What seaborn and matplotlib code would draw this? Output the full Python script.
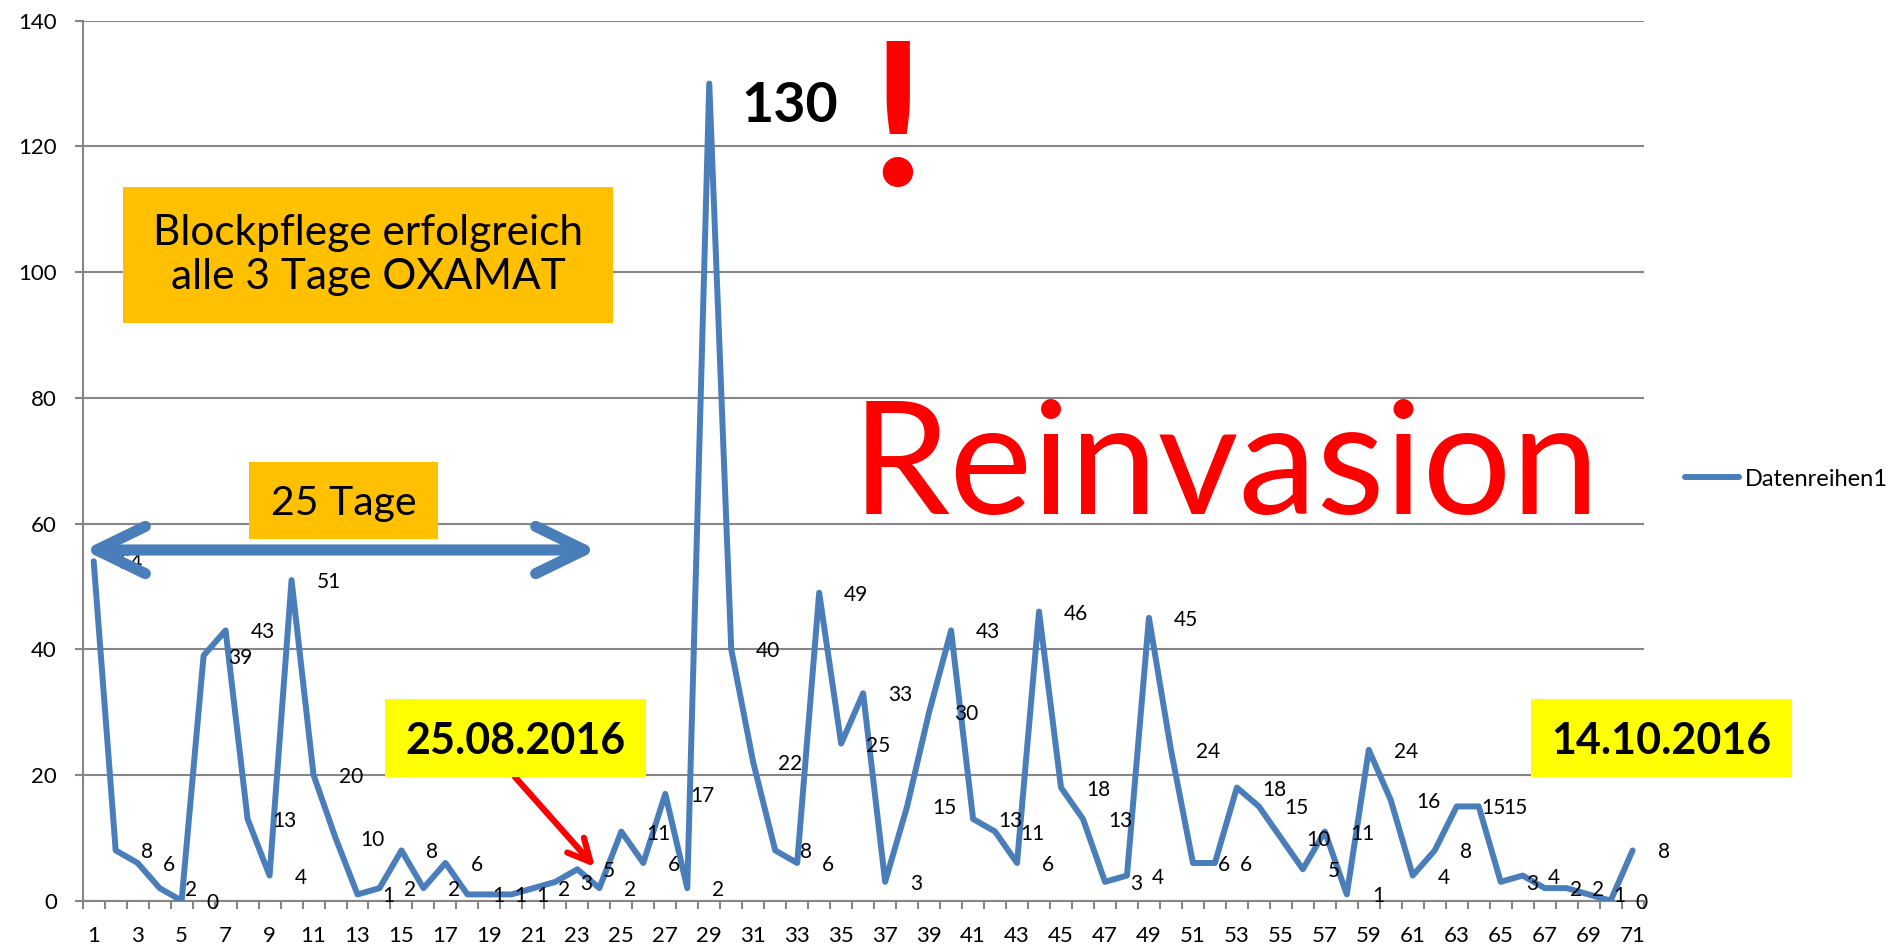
import matplotlib
matplotlib.use("Agg")
import matplotlib.pyplot as plt
from matplotlib.patches import Rectangle
import pandas as pd
import seaborn as sns

# Daten: Milbenfall pro Tag
tage = list(range(1, 72))
milben = [54, 8, 6, 2, 0, 39, 43, 13, 4, 51,
          20, 10, 1, 2, 8, 2, 6, 1, 1, 1,
          2, 3, 5, 2, 11, 6, 17, 2, 130, 40,
          22, 8, 6, 49, 25, 33, 3, 15, 30, 43,
          13, 11, 6, 46, 18, 13, 3, 4, 45, 24,
          6, 6, 18, 15, 10, 5, 11, 1, 24, 16,
          4, 8, 15, 15, 3, 4, 2, 2, 1, 0, 8]
y_ticks = [0, 20, 40, 60, 80, 100, 120, 140]
x_beschriftet = tage[::2]
serie = "Datenreihen1"

W, H = 1897, 948
BLAU = "#4A7EBB"
GRAU = "#868686"
ROT = "#FF0000"


def fig_xy(x, y):
    # Pixel der Vorlage -> Figure-Koordinaten
    return x / W, 1 - y / H


def kasten(x0, y0, x1, y1, farbe):
    fig.add_artist(Rectangle(fig_xy(x0, y1), (x1 - x0) / W, (y1 - y0) / H,
                             transform=fig.transFigure, facecolor=farbe,
                             edgecolor="none", zorder=2))


sns.set_style("white")
plt.rcParams["font.family"] = ["Lato", "DejaVu Sans"]
plt.rcParams["text.color"] = "black"
plt.rcParams["xtick.labelcolor"] = "black"
plt.rcParams["ytick.labelcolor"] = "black"

df = pd.DataFrame({"Tag": tage, "Anzahl": milben})

fig = plt.figure(figsize=(W / 100, H / 100), dpi=100)
ax = fig.add_axes([82.7 / W, 1 - 900.7 / H, (1643.6 - 82.7) / W, (900.7 - 20.7) / H])

sns.lineplot(data=df, x="Tag", y="Anzahl", ax=ax, color=BLAU, lw=4.3,
             label=serie, zorder=3)

ax.set_xlim(0.5, len(tage) + 0.5)
ax.set_ylim(y_ticks[0], y_ticks[-1])
ax.set_yticks(y_ticks)
ax.set_xticks(x_beschriftet)
ax.set_xticklabels([str(t) for t in x_beschriftet])
ax.set_xticks([t - 0.5 for t in tage] + [tage[-1] + 0.5], minor=True)
ax.set_xlabel("")
ax.set_ylabel("")

ax.grid(axis="y", color=GRAU, lw=1.5)
ax.grid(axis="x", visible=False)
sns.despine(ax=ax)
for s in ["left", "bottom"]:
    ax.spines[s].set_color(GRAU)
    ax.spines[s].set_linewidth(1.5)

ax.tick_params(axis="x", which="major", bottom=True, length=0, pad=18,
               labelsize=16, labelcolor="black")
ax.tick_params(axis="x", which="minor", bottom=True, length=6, width=1.5,
               color=GRAU, direction="out")
ax.tick_params(axis="y", left=True, length=6, width=1.5, color=GRAU,
               direction="out", pad=12.5, labelsize=16, labelcolor="black")

# Datenbeschriftungen rechts vom Punkt
for t, v in zip(tage, milben):
    if v == max(milben):
        ax.annotate(str(v), (t, v), xytext=(23, -13), textcoords="offset points",
                    ha="left", va="center_baseline", fontsize=40,
                    fontweight="bold", color="black", zorder=4)
    else:
        ax.annotate(str(v), (t, v), xytext=(18, 0), textcoords="offset points",
                    ha="left", va="center_baseline", fontsize=15,
                    color="black", zorder=4)

leg = ax.legend(loc="center left", bbox_to_anchor=fig_xy(1685, 479),
                bbox_transform=fig.transFigure, frameon=False, fontsize=17,
                handlelength=2.3, handletextpad=0.25, borderpad=0, borderaxespad=0)
for txt in leg.get_texts():
    txt.set_color("black")

# Kästen mit Text
kasten(123, 187, 613, 323, "#FFC000")
fig.text(*fig_xy(368, 255), "Blockpflege erfolgreich\nalle 3 Tage OXAMAT",
         ha="center", va="center", fontsize=30.5, linespacing=1.2,
         color="black", zorder=3)
kasten(249, 462, 438, 539, "#FFC000")
fig.text(*fig_xy(344, 500), "25 Tage", ha="center", va="center_baseline",
         fontsize=29.5, color="black", zorder=3)
kasten(385, 699, 646, 777, "#FFFF00")
fig.text(*fig_xy(515, 738), "25.08.2016", ha="center", va="center_baseline",
         fontsize=31, fontweight="bold", color="black", zorder=3)
kasten(1531, 699, 1792, 777, "#FFFF00")
fig.text(*fig_xy(1661, 738), "14.10.2016", ha="center", va="center_baseline",
         fontsize=31, fontweight="bold", color="black", zorder=3)

fig.text(*fig_xy(1226, 514), "Reinvasion", ha="center", va="baseline",
         fontsize=113, color=ROT, zorder=3)
fig.text(*fig_xy(897, 186), "!", ha="center", va="baseline",
         fontsize=144, fontweight="bold", color=ROT, zorder=3)

# Pfeile
ax.annotate("", xy=fig_xy(597, 550), xytext=fig_xy(84, 550),
            xycoords="figure fraction", textcoords="figure fraction",
            arrowprops=dict(arrowstyle="<->,head_length=35,head_width=17",
                            mutation_scale=1, lw=8, color=BLAU,
                            shrinkA=0, shrinkB=0, capstyle="round",
                            joinstyle="round"),
            annotation_clip=False, zorder=6)
ax.annotate("", xy=fig_xy(595, 867), xytext=fig_xy(515, 777),
            xycoords="figure fraction", textcoords="figure fraction",
            arrowprops=dict(arrowstyle="->,head_length=16,head_width=8",
                            mutation_scale=1, lw=4.5, color=ROT,
                            shrinkA=0, shrinkB=0),
            annotation_clip=False, zorder=6)

fig.savefig("out.png", dpi=100)
